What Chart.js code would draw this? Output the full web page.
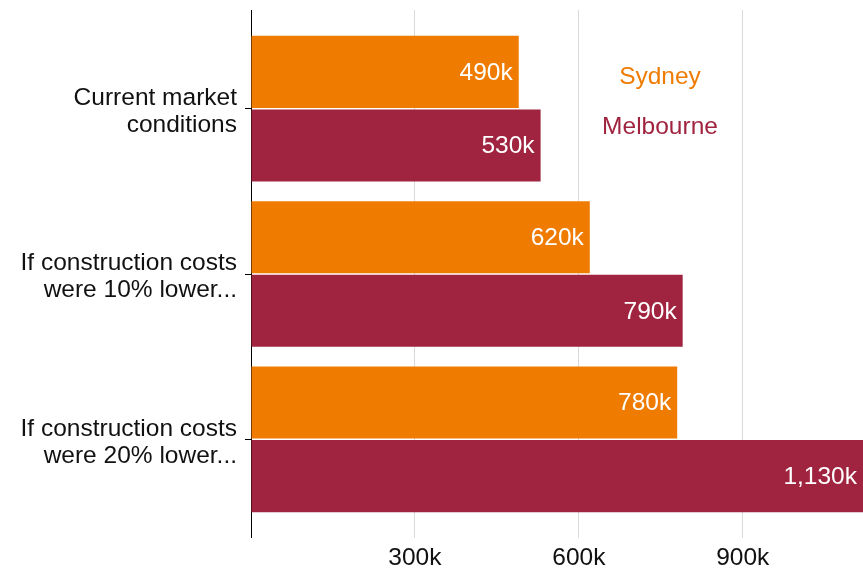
<!DOCTYPE html>
<html>
<head>
<meta charset="utf-8">
<script src="https://cdn.jsdelivr.net/npm/chart.js@4.4.1/dist/chart.umd.min.js"></script>
<style>
  html, body { margin: 0; padding: 0; background: #fff; }
  #wrap { width: 863px; height: 568px; }
</style>
</head>
<body>
<div id="wrap"><canvas id="c" width="863" height="568"></canvas></div>
<script>
// Scenarios and the number of homes (thousands) in each city
const scenarios = [
  ['Current market', 'conditions'],
  ['If construction costs', 'were 10% lower...'],
  ['If construction costs', 'were 20% lower...']
];
const sydney = [490, 620, 780];
const melbourne = [530, 790, 1130];
const xTicks = [0, 300, 600, 900];
const seriesNames = ['Sydney', 'Melbourne'];

const ORANGE = '#EF7B00';
const CRIMSON = '#A0243F';
const GRID = '#d9d9d9';
const FONT = '"Liberation Sans", Arial, Helvetica, sans-serif';
const FS = 24.5;

const fmtK = v => v.toLocaleString('en-US') + 'k';

// Vertical grid lines and the zero axis reach a little above the plot
const gridExtension = {
  id: 'gridExtension',
  beforeDatasetsDraw(chart) {
    const { ctx, chartArea, scales: { x } } = chart;
    ctx.save();
    ctx.lineWidth = 1;
    x.ticks.forEach(t => {
      const px = Math.round(x.getPixelForValue(t.value) - 0.5) + 0.5;
      ctx.strokeStyle = t.value === 0 ? '#000' : GRID;
      ctx.beginPath();
      ctx.moveTo(px, 10);
      ctx.lineTo(px, chartArea.top);
      ctx.stroke();
    });
    ctx.restore();
  }
};

// White value labels just inside the end of each bar
const valueLabels = {
  id: 'valueLabels',
  afterDatasetsDraw(chart) {
    const { ctx, chartArea } = chart;
    ctx.save();
    ctx.font = FS + 'px ' + FONT;
    ctx.fillStyle = '#fff';
    ctx.textAlign = 'right';
    ctx.textBaseline = 'middle';
    chart.data.datasets.forEach((ds, di) => {
      chart.getDatasetMeta(di).data.forEach((el, i) => {
        const end = Math.min(el.x, chartArea.right);
        ctx.fillText(fmtK(ds.data[i]), end - 6, el.y + 1);
      });
    });
    ctx.restore();
  }
};

// Series names written in their own colours inside the plot
const textLegend = {
  id: 'textLegend',
  afterDraw(chart) {
    const { ctx } = chart;
    ctx.save();
    ctx.font = FS + 'px ' + FONT;
    ctx.textAlign = 'center';
    ctx.textBaseline = 'middle';
    const pos = [[660, 77], [660, 127]];
    chart.data.datasets.forEach((ds, i) => {
      ctx.fillStyle = ds.backgroundColor;
      ctx.fillText(ds.label, pos[i][0], pos[i][1]);
    });
    ctx.restore();
  }
};

new Chart(document.getElementById('c'), {
  type: 'bar',
  data: {
    labels: scenarios,
    datasets: [
      { label: seriesNames[0], data: sydney, backgroundColor: ORANGE },
      { label: seriesNames[1], data: melbourne, backgroundColor: CRIMSON }
    ]
  },
  options: {
    indexAxis: 'y',
    responsive: false,
    animation: false,
    devicePixelRatio: 1,
    layout: { padding: { top: 26, right: 0, bottom: 0, left: 0 } },
    datasets: {
      bar: { categoryPercentage: 0.89, barPercentage: 0.98, borderWidth: 0 }
    },
    plugins: {
      legend: { display: false },
      tooltip: { enabled: false }
    },
    scales: {
      x: {
        min: 0,
        max: 1120,
        afterBuildTicks: s => { s.ticks = xTicks.map(v => ({ value: v })); },
        afterFit: s => { s.height = 46; s.paddingLeft = 0; s.paddingRight = 0; },
        ticks: {
          includeBounds: false,
          padding: 6,
          color: '#111',
          font: { family: FONT, size: FS },
          maxRotation: 0,
          callback: v => (v === 0 ? '' : fmtK(v))
        },
        grid: {
          color: c => (c.tick && c.tick.value === 0 ? '#000' : GRID),
          lineWidth: 1,
          tickLength: 16
        },
        border: { display: false }
      },
      y: {
        afterFit: s => { s.width = 251; s.paddingTop = 0; s.paddingBottom = 0; },
        ticks: {
          padding: 8,
          labelOffset: 3,
          color: '#111',
          font: { family: FONT, size: FS, lineHeight: 27 / FS }
        },
        grid: {
          offset: false,
          drawOnChartArea: false,
          color: '#000',
          tickLength: 6
        },
        border: { display: true, color: '#000', width: 1 }
      }
    }
  },
  plugins: [gridExtension, valueLabels, textLegend]
});
</script>
</body>
</html>
